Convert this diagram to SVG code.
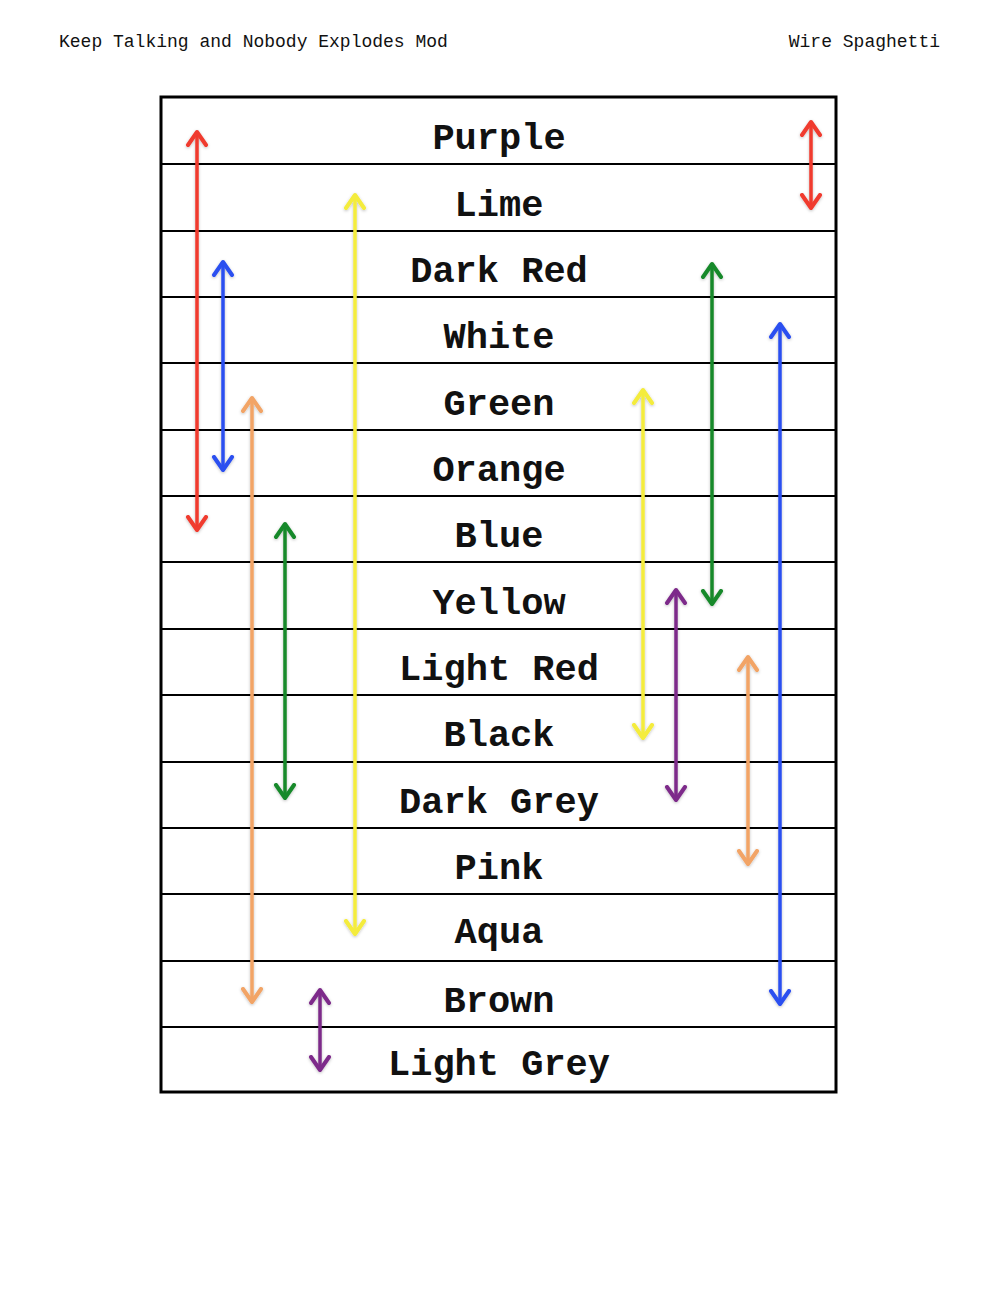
<svg xmlns="http://www.w3.org/2000/svg" width="1000" height="1300" viewBox="0 0 1000 1300">
<style>
.hdr{font-family:"Liberation Mono","DejaVu Sans Mono",monospace;font-size:18px;fill:#111}
.lbl{font-family:"Liberation Mono","DejaVu Sans Mono",monospace;font-weight:bold;font-size:37px;fill:#111;text-anchor:middle}
.row{stroke:#000;stroke-width:2}
.w{fill:none;stroke-width:3.5;filter:url(#glow)}
.red{stroke:#f03a2e}.yel{stroke:#f4ec3c}.blu{stroke:#2b4ff0}.grn{stroke:#17892a}.org{stroke:#f2a466}.pur{stroke:#7d2b8a}
.ah{fill:none;stroke-width:4;stroke-linecap:round;stroke-linejoin:round}
</style>
<defs>
<filter id="glow" filterUnits="userSpaceOnUse" x="0" y="0" width="1000" height="1300"><feDropShadow dx="0" dy="1" stdDeviation="1.5" flood-color="#000" flood-opacity="0.25"/></filter>
<marker id="mr" markerUnits="userSpaceOnUse" markerWidth="30" markerHeight="30" viewBox="-15 -15 30 30" refX="0" refY="0" orient="auto-start-reverse"><path class="ah" d="M-13,-9 L0,0 L-13,9" stroke="#f03a2e"/></marker>
<marker id="my" markerUnits="userSpaceOnUse" markerWidth="30" markerHeight="30" viewBox="-15 -15 30 30" refX="0" refY="0" orient="auto-start-reverse"><path class="ah" d="M-13,-9 L0,0 L-13,9" stroke="#f4ec3c"/></marker>
<marker id="mb" markerUnits="userSpaceOnUse" markerWidth="30" markerHeight="30" viewBox="-15 -15 30 30" refX="0" refY="0" orient="auto-start-reverse"><path class="ah" d="M-13,-9 L0,0 L-13,9" stroke="#2b4ff0"/></marker>
<marker id="mg" markerUnits="userSpaceOnUse" markerWidth="30" markerHeight="30" viewBox="-15 -15 30 30" refX="0" refY="0" orient="auto-start-reverse"><path class="ah" d="M-13,-9 L0,0 L-13,9" stroke="#17892a"/></marker>
<marker id="mo" markerUnits="userSpaceOnUse" markerWidth="30" markerHeight="30" viewBox="-15 -15 30 30" refX="0" refY="0" orient="auto-start-reverse"><path class="ah" d="M-13,-9 L0,0 L-13,9" stroke="#f2a466"/></marker>
<marker id="mp" markerUnits="userSpaceOnUse" markerWidth="30" markerHeight="30" viewBox="-15 -15 30 30" refX="0" refY="0" orient="auto-start-reverse"><path class="ah" d="M-13,-9 L0,0 L-13,9" stroke="#7d2b8a"/></marker>
</defs>
<rect width="1000" height="1300" fill="#fff"/>
<text class="hdr" x="59" y="47">Keep Talking and Nobody Explodes Mod</text>
<text class="hdr" x="940" y="47" text-anchor="end">Wire Spaghetti</text>
<g id="table">
<rect x="161" y="97" width="675" height="995" fill="none" stroke="#000" stroke-width="3"/>
<line class="row" x1="161" x2="836" y1="164" y2="164"/>
<line class="row" x1="161" x2="836" y1="231" y2="231"/>
<line class="row" x1="161" x2="836" y1="297" y2="297"/>
<line class="row" x1="161" x2="836" y1="363" y2="363"/>
<line class="row" x1="161" x2="836" y1="430" y2="430"/>
<line class="row" x1="161" x2="836" y1="496" y2="496"/>
<line class="row" x1="161" x2="836" y1="562" y2="562"/>
<line class="row" x1="161" x2="836" y1="629" y2="629"/>
<line class="row" x1="161" x2="836" y1="695" y2="695"/>
<line class="row" x1="161" x2="836" y1="762" y2="762"/>
<line class="row" x1="161" x2="836" y1="828" y2="828"/>
<line class="row" x1="161" x2="836" y1="894" y2="894"/>
<line class="row" x1="161" x2="836" y1="961" y2="961"/>
<line class="row" x1="161" x2="836" y1="1027" y2="1027"/>
</g>
<g id="n-purple"><text class="lbl" x="499" y="149">Purple</text></g>
<g id="n-lime"><text class="lbl" x="499" y="216">Lime</text></g>
<g id="n-darkred"><text class="lbl" x="499" y="282">Dark Red</text></g>
<g id="n-white"><text class="lbl" x="499" y="348">White</text></g>
<g id="n-green"><text class="lbl" x="499" y="415">Green</text></g>
<g id="n-orange"><text class="lbl" x="499" y="481">Orange</text></g>
<g id="n-blue"><text class="lbl" x="499" y="547">Blue</text></g>
<g id="n-yellow"><text class="lbl" x="499" y="614">Yellow</text></g>
<g id="n-lightred"><text class="lbl" x="499" y="680">Light Red</text></g>
<g id="n-black"><text class="lbl" x="499" y="746">Black</text></g>
<g id="n-darkgrey"><text class="lbl" x="499" y="813">Dark Grey</text></g>
<g id="n-pink"><text class="lbl" x="499" y="879">Pink</text></g>
<g id="n-aqua"><text class="lbl" x="499" y="943">Aqua</text></g>
<g id="n-brown"><text class="lbl" x="499" y="1012">Brown</text></g>
<g id="n-lightgrey"><text class="lbl" x="499" y="1075">Light Grey</text></g>
<g id="connectors">
<line class="w red" x1="197" y1="132" x2="197" y2="530" marker-start="url(#mr)" marker-end="url(#mr)"/>
<line class="w red" x1="811" y1="122" x2="811" y2="208" marker-start="url(#mr)" marker-end="url(#mr)"/>
<line class="w yel" x1="355" y1="195" x2="355" y2="934" marker-start="url(#my)" marker-end="url(#my)"/>
<line class="w blu" x1="223" y1="262" x2="223" y2="470" marker-start="url(#mb)" marker-end="url(#mb)"/>
<line class="w grn" x1="712" y1="264" x2="712" y2="604" marker-start="url(#mg)" marker-end="url(#mg)"/>
<line class="w blu" x1="780" y1="324" x2="780" y2="1004" marker-start="url(#mb)" marker-end="url(#mb)"/>
<line class="w org" x1="252" y1="398" x2="252" y2="1002" marker-start="url(#mo)" marker-end="url(#mo)"/>
<line class="w yel" x1="643" y1="390" x2="643" y2="738" marker-start="url(#my)" marker-end="url(#my)"/>
<line class="w grn" x1="285" y1="524" x2="285" y2="798" marker-start="url(#mg)" marker-end="url(#mg)"/>
<line class="w pur" x1="676" y1="590" x2="676" y2="800" marker-start="url(#mp)" marker-end="url(#mp)"/>
<line class="w org" x1="748" y1="657" x2="748" y2="864" marker-start="url(#mo)" marker-end="url(#mo)"/>
<line class="w pur" x1="320" y1="990" x2="320" y2="1070" marker-start="url(#mp)" marker-end="url(#mp)"/>
</g>
</svg>
